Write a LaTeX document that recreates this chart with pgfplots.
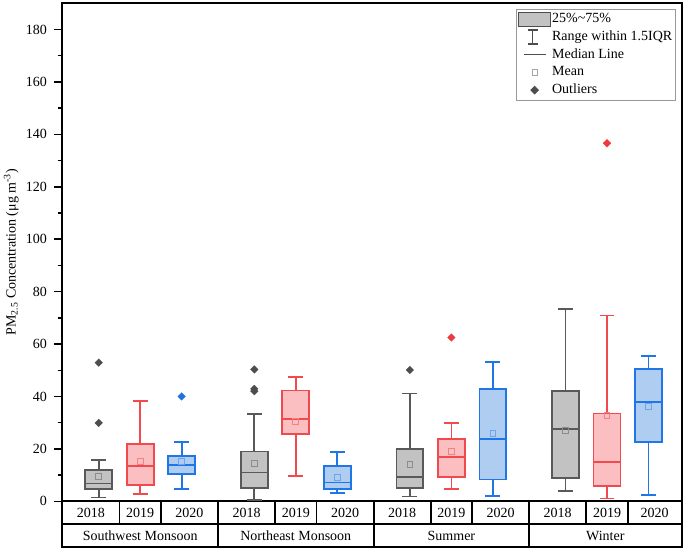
\documentclass[border=0pt]{standalone}
\usepackage{pgfplots}
\pgfplotsset{compat=1.18}
\usepgfplotslibrary{statistics}
\usepackage{fontspec}
\setmainfont{Liberation Serif}
\definecolor{gB}{HTML}{595959}
\definecolor{gF}{HTML}{C2C2C2}
\definecolor{gO}{HTML}{4D4D4D}
\definecolor{gM}{HTML}{8C8C8C}
\definecolor{rB}{HTML}{F04A4E}
\definecolor{rF}{HTML}{FBBEC1}
\definecolor{rO}{HTML}{F0393C}
\definecolor{rM}{HTML}{F08286}
\definecolor{bB}{HTML}{1F76E6}
\definecolor{bF}{HTML}{AFCCF1}
\definecolor{bO}{HTML}{1F72E6}
\definecolor{bM}{HTML}{6FA3EC}
\pgfplotsset{
  boxplot/draw direction=y,
  bx/.style n args={3}{draw=#1, fill=#2, line width=1.8pt, solid,
    mark=square*, mark size=2.7pt,
    mark options={rotate=45, draw=#3, fill=#3, line width=0.3pt},
    boxplot/every whisker/.style={line width=1.7pt},
    boxplot/every median/.style={line width=1.8pt},
    forget plot},
  mn/.style={only marks, mark=square, mark size=2.9pt, mark options={draw=#1, line width=1pt}, forget plot},
}
\begin{document}
\begin{tikzpicture}[font=\fontsize{14}{16.8}\selectfont]
\begin{axis}[
  scale only axis, width=619.4pt, height=498pt,
  xmin=0.123, xmax=15.05, ymin=0, ymax=190,
  xtick=\empty,
  ytick={0,20,...,180}, minor ytick={10,30,...,170},
  ytick pos=left, tick align=outside,
  major tick length=8pt, minor tick length=4.5pt,
  every tick/.style={black, line width=1.5pt},
  axis line style={line width=1.8pt},
  tick label style={font=\fontsize{14}{16.8}\selectfont},
  /pgf/number format/assume math mode=true,
  yticklabel style={xshift=-4pt},
  ylabel={PM\textsubscript{2.5} Concentration (μg m\textsuperscript{-3})},
  ylabel style={at={(axis description cs:-0.0825,0.5)}, anchor=center, font=\fontsize{14}{16.8}\selectfont},
  clip=false,
  legend style={at={(axis description cs:0.9903,0.988)}, anchor=north east,
    draw=gray!80, line width=0.8pt, inner sep=2pt, row sep=2.2pt,
    font=\fontsize{14}{16.8}\selectfont,
    nodes={inner sep=1pt, text height=10pt, text depth=3.5pt}},
  legend cell align=left,
]
% legend
\addlegendimage{legend image code/.code={\draw[draw=gO, fill=gF, line width=1pt] (-16pt,-7pt) rectangle (16pt,7pt);}}
\addlegendentry{25\%\textasciitilde75\%}
\addlegendimage{legend image code/.code={\draw[draw=gO, line width=1.3pt] (-2pt,-7pt) -- (-2pt,7pt) (-7pt,7pt) -- (3pt,7pt) (-7pt,-7pt) -- (3pt,-7pt);}}
\addlegendentry{Range within 1.5IQR}
\addlegendimage{legend image code/.code={\draw[draw=gO, line width=1.3pt] (-11pt,0pt) -- (11pt,0pt);}}
\addlegendentry{Median Line}
\addlegendimage{legend image code/.code={\draw[draw=gray!70, line width=0.6pt] (-2.8pt,-2.8pt) rectangle (2.8pt,2.8pt);}}
\addlegendentry{Mean}
\addlegendimage{legend image code/.code={\fill[gO] (0pt,-3.8pt) -- (3.8pt,0pt) -- (0pt,3.8pt) -- (-3.8pt,0pt) -- cycle;}}
\addlegendentry{Outliers}

% Southwest Monsoon
\addplot[bx={gB}{gF}{gO}, boxplot prepared={draw position=1, lower whisker=1.4, lower quartile=4.6, median=6.8, upper quartile=11.9, upper whisker=15.8, box extend=0.65, whisker extend=0.36}]
  table[row sep=\\, y index=0] {data\\ 52.9\\ 29.9\\};
\addplot[bx={rB}{rF}{rO}, boxplot prepared={draw position=2, lower whisker=2.8, lower quartile=6.2, median=13.4, upper quartile=22.0, upper whisker=38.4, box extend=0.65, whisker extend=0.36}]
  coordinates {};
\addplot[bx={bB}{bF}{bO}, boxplot prepared={draw position=3, lower whisker=4.8, lower quartile=10.4, median=13.7, upper quartile=17.2, upper whisker=22.5, box extend=0.65, whisker extend=0.36}]
  table[row sep=\\, y index=0] {data\\ 40.0\\};
% Northeast Monsoon
\addplot[bx={gB}{gF}{gO}, boxplot prepared={draw position=4.75, lower whisker=0.5, lower quartile=5.1, median=11.0, upper quartile=19.0, upper whisker=33.2, box extend=0.65, whisker extend=0.36}]
  table[row sep=\\, y index=0] {data\\ 50.3\\ 42.9\\ 42.0\\};
\addplot[bx={rB}{rF}{rO}, boxplot prepared={draw position=5.75, lower whisker=9.7, lower quartile=25.8, median=31.3, upper quartile=42.3, upper whisker=47.3, box extend=0.65, whisker extend=0.36}]
  coordinates {};
\addplot[bx={bB}{bF}{bO}, boxplot prepared={draw position=6.75, lower whisker=3.3, lower quartile=4.7, median=7.2, upper quartile=13.5, upper whisker=18.9, box extend=0.65, whisker extend=0.36}]
  coordinates {};
% Summer
\addplot[bx={gB}{gF}{gO}, boxplot prepared={draw position=8.5, lower whisker=1.8, lower quartile=5.0, median=9.2, upper quartile=20.1, upper whisker=41.1, box extend=0.65, whisker extend=0.36}]
  table[row sep=\\, y index=0] {data\\ 50.1\\};
\addplot[bx={rB}{rF}{rO}, boxplot prepared={draw position=9.5, lower whisker=4.6, lower quartile=9.3, median=17.0, upper quartile=23.8, upper whisker=29.9, box extend=0.65, whisker extend=0.36}]
  table[row sep=\\, y index=0] {data\\ 62.5\\};
\addplot[bx={bB}{bF}{bO}, boxplot prepared={draw position=10.5, lower whisker=1.9, lower quartile=8.3, median=23.8, upper quartile=42.7, upper whisker=53.1, box extend=0.65, whisker extend=0.36}]
  coordinates {};
% Winter
\addplot[bx={gB}{gF}{gO}, boxplot prepared={draw position=12.25, lower whisker=3.9, lower quartile=9.0, median=27.6, upper quartile=42.2, upper whisker=73.3, box extend=0.65, whisker extend=0.36}]
  coordinates {};
\addplot[bx={rB}{rF}{rO}, boxplot prepared={draw position=13.25, lower whisker=1.1, lower quartile=5.9, median=15.1, upper quartile=33.5, upper whisker=70.9, box extend=0.65, whisker extend=0.36}]
  table[row sep=\\, y index=0] {data\\ 136.6\\};
\addplot[bx={bB}{bF}{bO}, boxplot prepared={draw position=14.25, lower whisker=2.4, lower quartile=22.6, median=37.8, upper quartile=50.5, upper whisker=55.5, box extend=0.65, whisker extend=0.36}]
  coordinates {};

% means
\addplot[mn=gM] coordinates {(1,9.6) (4.75,14.3) (8.5,14.1) (12.25,27.1)};
\addplot[mn=rM] coordinates {(2,15.2) (5.75,30.5) (9.5,19.0) (13.25,32.7)};
\addplot[mn=bM] coordinates {(3,15.2) (6.75,9.1) (10.5,26.0) (14.25,36.1)};

% category table
\draw[line width=1.8pt] (axis cs:0.123,0) -- (axis cs:0.123,-17.55) -- (axis cs:15.05,-17.55) -- (axis cs:15.05,0);
\draw[line width=1.8pt] (axis cs:0.123,-8.78) -- (axis cs:15.05,-8.78);
\pgfplotsinvokeforeach{1.5,2.5,5.25,6.25,9,10,12.75,13.75}{
  \draw[line width=1.8pt] (axis cs:#1,0) -- (axis cs:#1,-8.78);
}
\pgfplotsinvokeforeach{3.875,7.625,11.375}{
  \draw[line width=1.8pt] (axis cs:#1,0) -- (axis cs:#1,-17.55);
}
\node at (axis cs:0.8115,-4.39) {2018};
\node at (axis cs:2,-4.39) {2019};
\node at (axis cs:3.1875,-4.39) {2020};
\node at (axis cs:4.5625,-4.39) {2018};
\node at (axis cs:5.75,-4.39) {2019};
\node at (axis cs:6.9375,-4.39) {2020};
\node at (axis cs:8.3125,-4.39) {2018};
\node at (axis cs:9.5,-4.39) {2019};
\node at (axis cs:10.6875,-4.39) {2020};
\node at (axis cs:12.0625,-4.39) {2018};
\node at (axis cs:13.25,-4.39) {2019};
\node at (axis cs:14.4,-4.39) {2020};
\node at (axis cs:1.999,-13.3) {Southwest Monsoon};
\node at (axis cs:5.75,-13.3) {Northeast Monsoon};
\node at (axis cs:9.5,-13.3) {Summer};
\node at (axis cs:13.21,-13.3) {Winter};
\coordinate (sw) at (rel axis cs:0,0);
\end{axis}
\pgfresetboundingbox
\path[use as bounding box] ([shift={(-62.3pt,-48.7pt)}]sw) rectangle ++(685pt,550pt);
\end{tikzpicture}
\end{document}
